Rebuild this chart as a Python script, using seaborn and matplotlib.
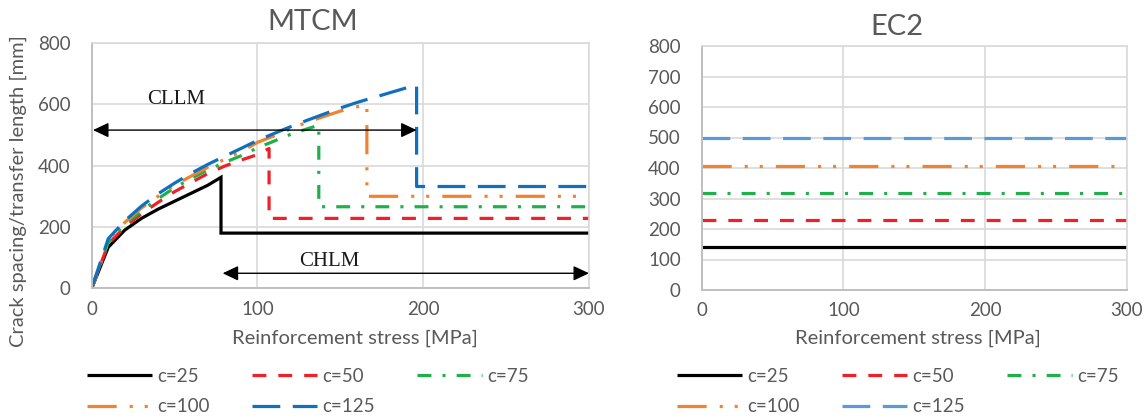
import matplotlib
matplotlib.use("Agg")
import matplotlib.pyplot as plt
import pandas as pd
import seaborn as sns

# ---- data -------------------------------------------------------------
labels = ["c=25", "c=50", "c=75", "c=100", "c=125"]

# MTCM: crack spacing / transfer length [mm] against reinforcement stress [MPa]
stress_c25 = [0, 10, 20, 30, 40, 50, 60, 70, 78, 78, 300]
length_c25 = [0, 134, 190, 228, 258, 284, 310, 336, 362, 180, 180]

stress_c50 = [0, 10, 20, 30, 40, 50, 60, 70, 80, 90, 100, 107, 107, 300]
length_c50 = [0, 145, 200, 243, 280, 315, 345, 374, 398, 418, 436, 456, 228, 228]

stress_c75 = [0, 10, 20, 30, 40, 50, 60, 70, 80, 90, 100, 110, 120, 130, 137, 137, 300]
length_c75 = [0, 150, 210, 252, 292, 328, 358, 386, 410, 432, 458, 480, 502, 520, 532, 266, 266]

stress_c100 = [0, 10, 20, 30, 40, 50, 60, 70, 80, 90, 100, 110, 120, 130, 140, 150, 160,
               166, 166, 300]
length_c100 = [0, 155, 215, 262, 300, 336, 366, 395, 420, 445, 476, 497, 520, 542, 560, 578, 592,
               598, 300, 300]

stress_c125 = [0, 10, 20, 30, 40, 50, 60, 70, 80, 90, 100, 110, 120, 130, 140, 150, 160, 170,
               180, 190, 196, 196, 300]
length_c125 = [0, 162, 220, 268, 308, 343, 375, 404, 430, 456, 482, 505, 527, 548, 568, 588, 606,
               622, 638, 654, 663, 332, 332]

# EC2: constant crack spacing [mm]
ec2_stress = [0, 300]
ec2_spacing = [140, 228, 318, 408, 498]

# ---- styling ------------------------------------------------------------
sns.set_style("white")
plt.rcParams["font.family"] = ["Lato", "DejaVu Sans"]
plt.rcParams["lines.scale_dashes"] = False

GREY_TXT = "#595959"
GRID = "#D9D9D9"
AXIS = "#BFBFBF"

colors_mtcm = ["#000000", "#EE2028", "#20B04B", "#F08330", "#1070C0"]
colors_ec2 = ["#000000", "#EE2028", "#20B04B", "#F08330", "#5B9BD5"]
dash_map = {
    "c=25": "",
    "c=50": (10, 8.6),
    "c=75": (10, 8, 2.2, 8),
    "c=100": (21, 9.4, 2.2, 8.6, 2.2, 9.4),
    "c=125": (20, 9),
}

mtcm_x = [stress_c25, stress_c50, stress_c75, stress_c100, stress_c125]
mtcm_y = [length_c25, length_c50, length_c75, length_c100, length_c125]
mtcm = pd.concat(
    [pd.DataFrame({"stress": xs, "length": ys, "series": lab})
     for lab, xs, ys in zip(labels, mtcm_x, mtcm_y)],
    ignore_index=True,
)
ec2 = pd.concat(
    [pd.DataFrame({"stress": ec2_stress, "length": [v, v], "series": lab})
     for lab, v in zip(labels, ec2_spacing)],
    ignore_index=True,
)

W, H = 1148, 420
fig = plt.figure(figsize=(W / 100, H / 100), dpi=100)


def fpos(x, y):
    return x / W, 1 - y / H


ax1 = fig.add_axes([91.7 / W, (H - 288.3) / H, (589 - 91.7) / W, (288.3 - 43) / H])
ax2 = fig.add_axes([701.7 / W, (H - 290) / H, (1126.7 - 701.7) / W, (290 - 46) / H])

LW = 2.3
for ax, df, cols in ((ax1, mtcm, colors_mtcm), (ax2, ec2, colors_ec2)):
    sns.lineplot(data=df, x="stress", y="length", hue="series", style="series",
                 hue_order=labels, style_order=labels, palette=cols, dashes=dash_map,
                 sort=False, estimator=None, linewidth=LW, legend=False, ax=ax)
    for ln in ax.lines:
        ln.set_dash_capstyle("butt")
        ln.set_solid_capstyle("butt")
        ln.set_solid_joinstyle("miter")
    ax.set_xlim(0, 300)
    ax.set_ylim(0, 800)
    ax.set_xticks([0, 100, 200, 300])
    ax.grid(True, color=GRID, linewidth=1.2)
    ax.set_axisbelow(True)
    for side in ("top", "right"):
        ax.spines[side].set_color(GRID)
        ax.spines[side].set_linewidth(1.2)
    for side in ("left", "bottom"):
        ax.spines[side].set_color(AXIS)
        ax.spines[side].set_linewidth(1.4)
    ax.tick_params(axis="both", length=0, labelsize=13.5, labelcolor=GREY_TXT)
    ax.tick_params(axis="y", pad=15)
    ax.tick_params(axis="x", pad=9)
    ax.set_xlabel("")
    ax.set_ylabel("")

ax1.set_yticks([0, 200, 400, 600, 800])
ax2.set_yticks(list(range(0, 801, 100)))

# annotation arrows for the two loading regimes
arrow = dict(arrowstyle="<|-|>,head_length=0.95,head_width=0.45", color="black",
             lw=1.0, mutation_scale=10, shrinkA=0, shrinkB=0)
ax1.annotate("", xy=(196, 516), xytext=(0.8, 516), arrowprops=arrow)
ax1.annotate("", xy=(300, 49), xytext=(79, 49), arrowprops=arrow, annotation_clip=False)
ax1.text(51, 616, "CLLM", ha="center", va="center", fontsize=15,
         family="Liberation Serif", color="#1a1a1a")
ax1.text(143.5, 87, "CHLM", ha="center", va="center", fontsize=15,
         family="Liberation Serif", color="#1a1a1a")

# titles and axis labels
fig.text(*fpos(313, 22), "MTCM", ha="center", va="center", fontsize=21, color=GREY_TXT)
fig.text(*fpos(897, 27), "EC2", ha="center", va="center", fontsize=21, color=GREY_TXT)
for cx in (355, 918):
    fig.text(*fpos(cx, 338), "Reinforcement stress [MPa]", ha="center", va="center",
             fontsize=14.5, color=GREY_TXT)
fig.text(*fpos(18, 191), "Crack spacing/transfer length [mm]", ha="center", va="center",
         rotation=90, fontsize=14.5, color=GREY_TXT)

# legends, filled row by row
order = [0, 3, 1, 4, 2]
for ax, x0 in ((ax1, 87), (ax2, 677)):
    lines = ax.lines[:5]
    leg = fig.legend([lines[i] for i in order], [labels[i] for i in order],
                     loc="upper left", bbox_to_anchor=fpos(x0, 368), ncol=3,
                     frameon=False, fontsize=13.5, handlelength=3.45, handletextpad=0.3,
                     columnspacing=2.25, labelspacing=0.7, borderpad=0, borderaxespad=0)
    for t in leg.get_texts():
        t.set_color(GREY_TXT)

fig.savefig("out.png", dpi=100)
